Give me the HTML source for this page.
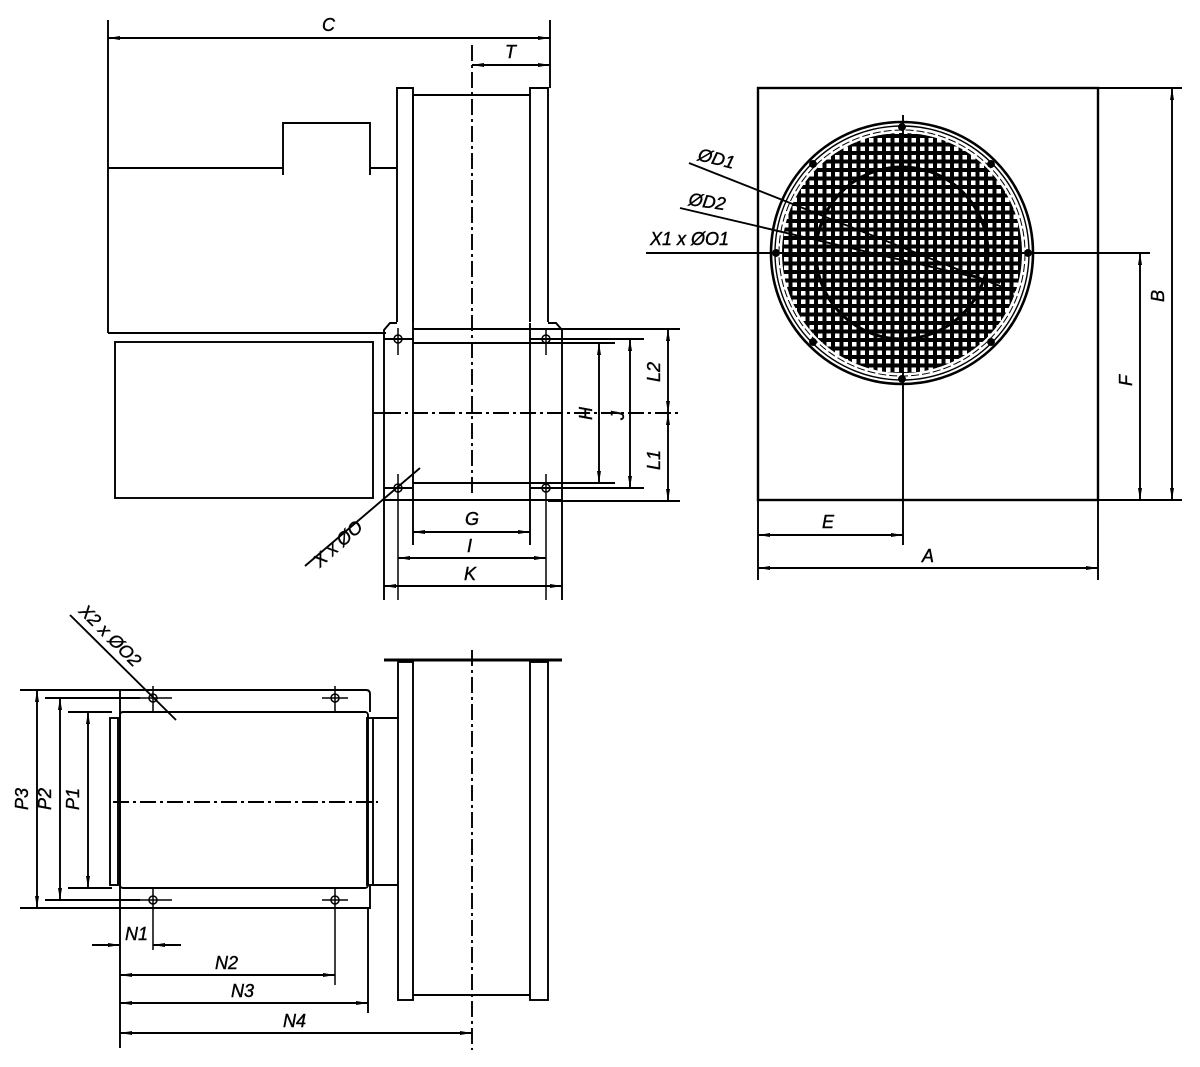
<!DOCTYPE html>
<html><head><meta charset="utf-8"><style>
html,body{margin:0;padding:0;background:#fff;}
svg{display:block;}
text{font-family:"Liberation Sans",sans-serif;font-style:italic;font-size:18px;fill:#000;stroke:#000;stroke-width:0.4;}
</style></head><body>
<svg width="1200" height="1067" viewBox="0 0 1200 1067" xmlns="http://www.w3.org/2000/svg">
<defs>
<marker id="a" markerWidth="12" markerHeight="6" refX="12" refY="3" orient="auto-start-reverse" markerUnits="userSpaceOnUse">
<path d="M0,1 L12,3 L0,5 z" fill="#000"/></marker>
<pattern id="grid" x="0" y="0" width="8.5" height="8.5" patternUnits="userSpaceOnUse">
<rect x="1" y="1" width="6.5" height="6.5" fill="none" stroke="#000" stroke-width="2"/></pattern>
<clipPath id="cc"><circle cx="902" cy="253" r="120"/></clipPath>
</defs>
<g fill="none" stroke="#000" stroke-width="1.9">
<line x1="108" y1="20" x2="108" y2="333"/>
<line x1="550" y1="20" x2="550" y2="88"/>
<line x1="108" y1="38" x2="550" y2="38" marker-start="url(#a)" marker-end="url(#a)"/>
<line x1="472" y1="65" x2="550" y2="65" marker-start="url(#a)" marker-end="url(#a)"/>
<line x1="472" y1="45" x2="472" y2="495" stroke-dasharray="16,4,3,4"/>
<path d="M108,168 H283 V175 M283,168 V123 H370 V175 M370,168 H397"/>
<line x1="108" y1="333" x2="386" y2="333"/>
<rect x="115" y="342" width="258" height="156"/>
<line x1="373" y1="413" x2="385" y2="413"/>
<path d="M397,322 V88 H413 V322"/>
<path d="M530,322 V88 H548 V322"/>
<path d="M413,95 H530"/>
<path d="M384,500 V330 L390,323 H397 M413,323 V500"/>
<path d="M530,323 V500 M548,323 L556,323 L562,330 V500 L556,500"/>
<line x1="413" y1="95" x2="413" y2="323"/>
<line x1="384" y1="500" x2="562" y2="500"/>
<line x1="413" y1="329" x2="680" y2="329"/>
<line x1="384" y1="339" x2="413" y2="339"/>
<line x1="530" y1="339" x2="644" y2="339"/>
<line x1="413" y1="343" x2="615" y2="343"/>
<line x1="413" y1="483" x2="615" y2="483"/>
<line x1="384" y1="488" x2="413" y2="488"/>
<line x1="530" y1="488" x2="644" y2="488"/>
<line x1="548" y1="501" x2="680" y2="501"/>
<line x1="385" y1="413" x2="680" y2="413" stroke-dasharray="16,4,3,4"/>
<g stroke-width="1.5">
<circle cx="398" cy="339" r="4"/><circle cx="546" cy="339" r="4"/>
<circle cx="398" cy="488" r="4"/><circle cx="546" cy="488" r="4"/>
<path d="M398,328 V355 M390,339 H406 M546,328 V355 M538,339 H554 M398,474 V600 M546,474 V600 M390,488 H406 M538,488 H554"/>
</g>
<line x1="599" y1="343" x2="599" y2="483" marker-start="url(#a)" marker-end="url(#a)"/>
<line x1="630" y1="339" x2="630" y2="488" marker-start="url(#a)" marker-end="url(#a)"/>
<line x1="668" y1="329" x2="668" y2="413" marker-start="url(#a)" marker-end="url(#a)"/>
<line x1="668" y1="413" x2="668" y2="501" marker-start="url(#a)" marker-end="url(#a)"/>
<line x1="413" y1="500" x2="413" y2="545"/><line x1="530" y1="500" x2="530" y2="545"/>
<line x1="384" y1="500" x2="384" y2="600"/><line x1="562" y1="500" x2="562" y2="600"/>
<line x1="413" y1="532" x2="530" y2="532" marker-start="url(#a)" marker-end="url(#a)"/>
<line x1="398" y1="558" x2="546" y2="558" marker-start="url(#a)" marker-end="url(#a)"/>
<line x1="384" y1="586" x2="562" y2="586" marker-start="url(#a)" marker-end="url(#a)"/>
<line x1="420" y1="468" x2="305" y2="566"/>
<rect x="758" y="88" width="340" height="412" stroke-width="2.4"/>
<line x1="1098" y1="88" x2="1182" y2="88"/><line x1="1098" y1="500" x2="1182" y2="500"/>
<line x1="1172" y1="88" x2="1172" y2="500" marker-start="url(#a)" marker-end="url(#a)"/>
<line x1="1140" y1="253" x2="1140" y2="500" marker-start="url(#a)" marker-end="url(#a)"/>
<line x1="646" y1="253" x2="1150" y2="253"/>
<line x1="903" y1="115" x2="903" y2="545"/>
<line x1="758" y1="500" x2="758" y2="580"/><line x1="1098" y1="500" x2="1098" y2="580"/>
<line x1="758" y1="535" x2="903" y2="535" marker-start="url(#a)" marker-end="url(#a)"/>
<line x1="758" y1="568" x2="1098" y2="568" marker-start="url(#a)" marker-end="url(#a)"/>
<rect x="770" y="120" width="265" height="265" fill="url(#grid)" stroke="none" clip-path="url(#cc)"/>
<circle cx="902" cy="253" r="131" stroke-width="2.6"/>
<circle cx="902" cy="253" r="127" stroke-width="1.4"/>
<circle cx="902" cy="253" r="123" stroke-dasharray="8,3" stroke-width="1"/>
<circle cx="902" cy="253" r="86" stroke-width="3"/>
<g fill="#000"><circle cx="902" cy="127" r="3"/><circle cx="902" cy="379" r="3"/><circle cx="776" cy="253" r="3"/><circle cx="1028" cy="253" r="3"/>
<circle cx="813" cy="164" r="3"/><circle cx="991" cy="164" r="3"/><circle cx="813" cy="342" r="3"/><circle cx="991" cy="342" r="3"/></g>
<line x1="689" y1="163" x2="1015" y2="292"/>
<line x1="680" y1="208" x2="1000" y2="283"/>
<path d="M120,690 H366 Q370,690 370,694 V712 M120,690 V908 H370 V886"/>
<rect x="120" y="712" width="248" height="176" rx="3"/>
<rect x="110" y="718" width="8" height="167"/>
<rect x="367" y="718" width="6" height="167"/>
<line x1="113" y1="802" x2="378" y2="802" stroke-dasharray="16,4,3,4"/>
<path d="M373,718 H398 M373,885 H398"/>
<line x1="384" y1="660" x2="562" y2="660" stroke-width="3"/>
<rect x="398" y="662" width="15" height="338"/>
<rect x="530" y="662" width="18" height="338"/>
<line x1="413" y1="995" x2="530" y2="995"/>
<line x1="472" y1="650" x2="472" y2="1050" stroke-dasharray="16,4,3,4"/>
<g stroke-width="1.5">
<circle cx="153" cy="698" r="4"/><circle cx="335" cy="698" r="4"/><circle cx="153" cy="900" r="4"/><circle cx="335" cy="900" r="4"/>
<path d="M153,686 V712 M140,698 H172 M335,686 V712 M322,698 H348 M153,888 V950 M140,900 H172 M335,888 V985 M322,900 H348"/>
</g>
<line x1="20" y1="690" x2="120" y2="690"/><line x1="20" y1="908" x2="120" y2="908"/>
<line x1="45" y1="698" x2="140" y2="698"/><line x1="45" y1="900" x2="140" y2="900"/>
<line x1="68" y1="712" x2="112" y2="712"/><line x1="68" y1="888" x2="112" y2="888"/>
<line x1="37" y1="690" x2="37" y2="908" marker-start="url(#a)" marker-end="url(#a)"/>
<line x1="60" y1="698" x2="60" y2="900" marker-start="url(#a)" marker-end="url(#a)"/>
<line x1="88" y1="712" x2="88" y2="888" marker-start="url(#a)" marker-end="url(#a)"/>
<line x1="120" y1="908" x2="120" y2="1048"/>
<line x1="368" y1="908" x2="368" y2="1013"/>
<line x1="92" y1="945" x2="120" y2="945" marker-end="url(#a)"/>
<line x1="181" y1="945" x2="153" y2="945" marker-end="url(#a)"/>
<line x1="120" y1="975" x2="335" y2="975" marker-start="url(#a)" marker-end="url(#a)"/>
<line x1="120" y1="1003" x2="368" y2="1003" marker-start="url(#a)" marker-end="url(#a)"/>
<line x1="120" y1="1033" x2="472" y2="1033" marker-start="url(#a)" marker-end="url(#a)"/>
<line x1="70" y1="615" x2="176" y2="720"/>
</g>
<text x="322" y="31">C</text>
<text x="505" y="58">T</text>
<text x="465" y="525">G</text>
<text x="467" y="552">I</text>
<text x="464" y="580">K</text>
<text transform="translate(592,420) rotate(-90)">H</text>
<text transform="translate(624,420) rotate(-90)">J</text>
<text transform="translate(660,382) rotate(-90)">L2</text>
<text transform="translate(660,470) rotate(-90)">L1</text>
<text transform="translate(320,568) rotate(-42)">X x ØO</text>
<text transform="translate(1164,302) rotate(-90)">B</text>
<text transform="translate(1132,386) rotate(-90)">F</text>
<text x="822" y="528">E</text>
<text x="922" y="562">A</text>
<text transform="translate(697,160) rotate(14)">ØD1</text>
<text transform="translate(688,205) rotate(8)">ØD2</text>
<text x="650" y="245">X1 x ØO1</text>
<text transform="translate(28,810) rotate(-90)">P3</text>
<text transform="translate(51,810) rotate(-90)">P2</text>
<text transform="translate(79,810) rotate(-90)">P1</text>
<text transform="translate(78,612) rotate(45)">X2 x ØO2</text>
<text x="125" y="940">N1</text>
<text x="215" y="969">N2</text>
<text x="231" y="997">N3</text>
<text x="283" y="1027">N4</text>
</svg>
</body></html>
